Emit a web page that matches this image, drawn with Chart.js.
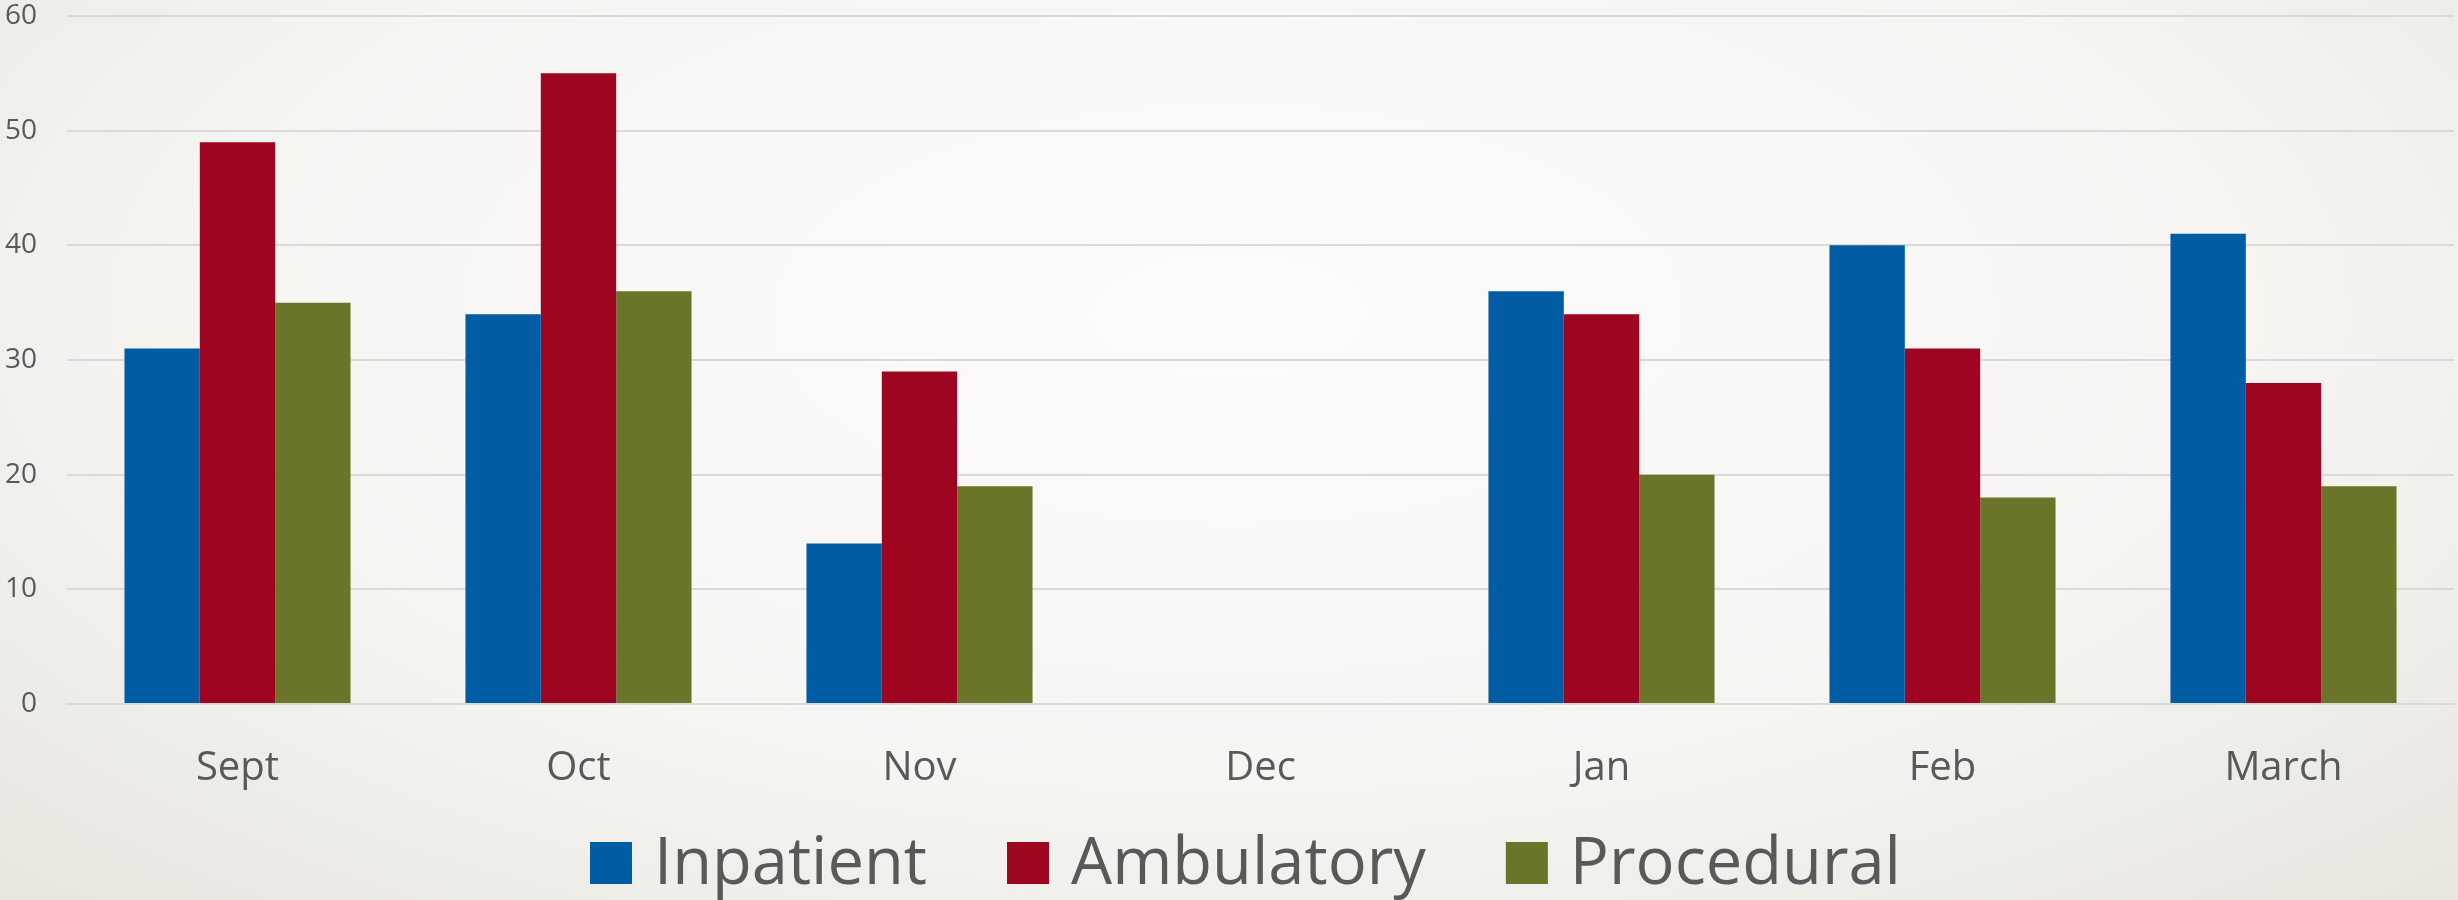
<!DOCTYPE html>
<html>
<head>
  <title>Monthly Volumes</title>
  <script src="https://cdn.jsdelivr.net/npm/chart.js"></script>
  <style>
    html, body { margin: 0; padding: 0; }
    body {
      width: 2458px; height: 900px; overflow: hidden;
      background: radial-gradient(ellipse 75% 95% at 50% 35%, #fbfbfa 0%, #f6f5f2 55%, #e6e3dc 100%);
    }
    #wrap { position: relative; width: 2458px; height: 900px; }
  </style>
</head>
<body>
  <div id="wrap">
    <canvas id="volumeChart"></canvas>
  </div>
  <script>
    const months = ['Sept', 'Oct', 'Nov', 'Dec', 'Jan', 'Feb', 'March'];
    const inpatient = [31, 34, 14, null, 36, 40, 41];
    const ambulatory = [49, 55, 29, null, 34, 31, 28];
    const procedural = [35, 36, 19, null, 20, 18, 19];

    const textColor = '#595959';
    const fontFamily = '"Open Sans", "DejaVu Sans", sans-serif';

    // legend drawn by hand so the spacing matches the slide
    const bottomLegend = {
      id: 'bottomLegend',
      afterDraw(chart) {
        const ctx = chart.ctx;
        const box = 42, gapText = 22, gapItem = 80;
        ctx.save();
        ctx.font = '65px ' + fontFamily;
        const items = chart.data.datasets.map(ds => ({
          text: ds.label, color: ds.backgroundColor, w: ctx.measureText(ds.label).width
        }));
        let total = 0;
        items.forEach((it, i) => { total += box + gapText + it.w + (i ? gapItem : 0); });
        const area = chart.chartArea;
        let x = (area.left + area.right) / 2 - total / 2 - 15;
        const cy = chart.height - 37;
        ctx.textBaseline = 'middle';
        items.forEach(it => {
          ctx.fillStyle = it.color;
          ctx.fillRect(x, cy - box / 2, box, box);
          x += box + gapText;
          ctx.fillStyle = textColor;
          ctx.fillText(it.text, x, cy + 2);
          x += it.w + gapItem;
        });
        ctx.restore();
      }
    };

    new Chart(document.getElementById('volumeChart'), {
      type: 'bar',
      data: {
        labels: months,
        datasets: [
          { label: 'Inpatient', data: inpatient, backgroundColor: '#005DA4' },
          { label: 'Ambulatory', data: ambulatory, backgroundColor: '#9E0521' },
          { label: 'Procedural', data: procedural, backgroundColor: '#6A752A' }
        ]
      },
      options: {
        responsive: true,
        maintainAspectRatio: false,
        animation: false,
        layout: { padding: { top: 0, right: 4, bottom: 66, left: 0 } },
        datasets: {
          bar: { barPercentage: 1, categoryPercentage: 0.663, borderWidth: 0 }
        },
        plugins: {
          legend: { display: false },
          tooltip: { enabled: false }
        },
        scales: {
          x: {
            grid: { display: false, drawTicks: false },
            border: { display: true, color: '#d9d9d9', width: 2 },
            ticks: { color: textColor, padding: 41, font: { family: fontFamily, size: 40 } }
          },
          y: {
            min: 0,
            max: 60,
            afterFit: scale => {
              scale.width = 67;
              scale.paddingTop = 16;
              scale.paddingBottom = 0;
            },
            grid: { color: '#d9d9d9', lineWidth: 2, drawTicks: false },
            border: { display: false },
            ticks: { stepSize: 10, color: textColor, padding: 30, font: { family: fontFamily, size: 28 } }
          }
        }
      },
      plugins: [bottomLegend]
    });
  </script>
</body>
</html>
